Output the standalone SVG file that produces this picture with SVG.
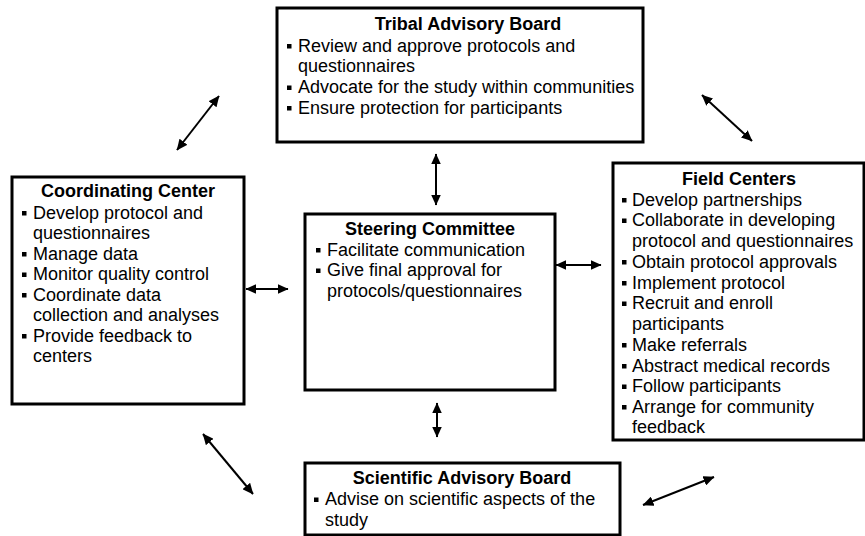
<svg xmlns="http://www.w3.org/2000/svg" xmlns:xlink="http://www.w3.org/1999/xlink" width="865" height="536" viewBox="0 0 865 536">
  <style>
    .box { fill: #ffffff; stroke: #000000; stroke-width: 3; }
    .t { font-family: "Liberation Sans", Arial, sans-serif; font-size: 18px; fill: #000000; }
    .h { font-weight: bold; text-anchor: middle; }
    .c { stroke: #000000; stroke-width: 2; fill: none; marker-start: url(#ah); marker-end: url(#ah); }
  </style>
  <defs>
    <marker id="ah" viewBox="0 0 10 9" refX="9.5" refY="4.5" markerUnits="userSpaceOnUse" markerWidth="11" markerHeight="10" orient="auto-start-reverse">
      <path d="M0,0 L10,4.5 L0,9 z" fill="#000000"/>
    </marker>
    <rect id="b" x="0" y="-7.5" width="4.5" height="4.5" fill="#000000"/>
  </defs>
  <rect x="0" y="0" width="865" height="536" fill="#ffffff"/>

  <g id="connectors">
    <line class="c" x1="436" y1="154" x2="436" y2="205"/>
    <line class="c" x1="437" y1="403" x2="437" y2="437"/>
    <line class="c" x1="246" y1="289" x2="288" y2="289"/>
    <line class="c" x1="556" y1="265" x2="601" y2="265"/>
    <line class="c" x1="177" y1="150" x2="219" y2="96"/>
    <line class="c" x1="702" y1="95" x2="752" y2="141"/>
    <line class="c" x1="203" y1="434" x2="253" y2="494"/>
    <line class="c" x1="643" y1="505" x2="714" y2="477"/>
  </g>

  <g id="tribal-advisory-board">
    <rect class="box" x="277" y="8" width="366" height="134"/>
    <text class="t h" x="468" y="30">Tribal Advisory Board</text>
    <use xlink:href="#b" x="287" y="51.5"/>
    <text class="t" x="298" y="51.5">Review and approve protocols and</text>
    <text class="t" x="298" y="72">questionnaires</text>
    <use xlink:href="#b" x="287" y="93"/>
    <text class="t" x="298" y="93">Advocate for the study within communities</text>
    <use xlink:href="#b" x="287" y="113.5"/>
    <text class="t" x="298" y="113.5">Ensure protection for participants</text>
  </g>

  <g id="coordinating-center">
    <rect class="box" x="12" y="177" width="232" height="227"/>
    <text class="t h" x="128" y="197">Coordinating Center</text>
    <use xlink:href="#b" x="22" y="218.5"/>
    <text class="t" x="33" y="218.5">Develop protocol and</text>
    <text class="t" x="33" y="239">questionnaires</text>
    <use xlink:href="#b" x="22" y="259.5"/>
    <text class="t" x="33" y="259.5">Manage data</text>
    <use xlink:href="#b" x="22" y="280"/>
    <text class="t" x="33" y="280">Monitor quality control</text>
    <use xlink:href="#b" x="22" y="300.5"/>
    <text class="t" x="33" y="300.5">Coordinate data</text>
    <text class="t" x="33" y="321">collection and analyses</text>
    <use xlink:href="#b" x="22" y="341.5"/>
    <text class="t" x="33" y="341.5">Provide feedback to</text>
    <text class="t" x="33" y="362">centers</text>
  </g>

  <g id="steering-committee">
    <rect class="box" x="305" y="214" width="250" height="176"/>
    <text class="t h" x="430" y="235">Steering Committee</text>
    <use xlink:href="#b" x="316" y="255.5"/>
    <text class="t" x="327" y="255.5">Facilitate communication</text>
    <use xlink:href="#b" x="316" y="276"/>
    <text class="t" x="327" y="276">Give final approval for</text>
    <text class="t" x="327" y="296.5">protocols/questionnaires</text>
  </g>

  <g id="field-centers">
    <rect class="box" x="613" y="163" width="251" height="277"/>
    <text class="t h" x="739" y="185">Field Centers</text>
    <use xlink:href="#b" x="622" y="205.5"/>
    <text class="t" x="632" y="205.5">Develop partnerships</text>
    <use xlink:href="#b" x="622" y="226"/>
    <text class="t" x="632" y="226">Collaborate in developing</text>
    <text class="t" x="632" y="247">protocol and questionnaires</text>
    <use xlink:href="#b" x="622" y="267.5"/>
    <text class="t" x="632" y="267.5">Obtain protocol approvals</text>
    <use xlink:href="#b" x="622" y="288.5"/>
    <text class="t" x="632" y="288.5">Implement protocol</text>
    <use xlink:href="#b" x="622" y="309"/>
    <text class="t" x="632" y="309">Recruit and enroll</text>
    <text class="t" x="632" y="330">participants</text>
    <use xlink:href="#b" x="622" y="350.5"/>
    <text class="t" x="632" y="350.5">Make referrals</text>
    <use xlink:href="#b" x="622" y="371.5"/>
    <text class="t" x="632" y="371.5">Abstract medical records</text>
    <use xlink:href="#b" x="622" y="392"/>
    <text class="t" x="632" y="392">Follow participants</text>
    <use xlink:href="#b" x="622" y="412.5"/>
    <text class="t" x="632" y="412.5">Arrange for community</text>
    <text class="t" x="632" y="433">feedback</text>
  </g>

  <g id="scientific-advisory-board">
    <rect class="box" x="305" y="463" width="315" height="72"/>
    <text class="t h" x="462" y="484">Scientific Advisory Board</text>
    <use xlink:href="#b" x="314" y="505"/>
    <text class="t" x="325" y="505">Advise on scientific aspects of the</text>
    <text class="t" x="325" y="526">study</text>
  </g>
</svg>
